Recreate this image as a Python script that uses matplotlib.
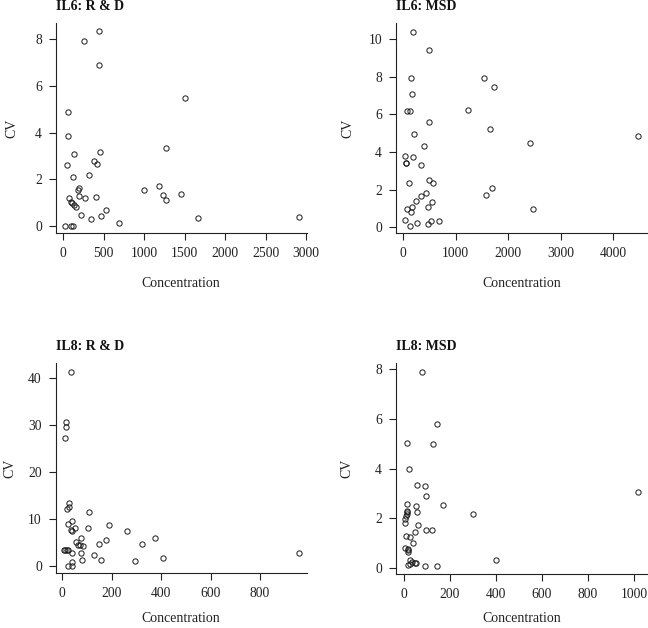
import matplotlib
matplotlib.use('Agg')
import matplotlib.pyplot as plt

plt.rcParams['font.family'] = ['Liberation Serif', 'DejaVu Serif']

# IL6: R & D
il6_rd_conc = [437, 255, 441, 1508, 58, 58, 1265, 449, 128, 375,
               412, 45, 313, 115, 1178, 194, 185, 997, 1454, 1228,
               194, 74, 264, 408, 1269, 91, 111, 132, 152, 527,
               214, 470, 338, 1660, 2913, 684, 25, 95, 119]
il6_rd_cv = [8.33, 7.91, 6.89, 5.47, 4.90, 3.87, 3.34, 3.16, 3.09, 2.77,
             2.67, 2.63, 2.17, 2.09, 1.71, 1.64, 1.56, 1.56, 1.36, 1.31,
             1.30, 1.21, 1.21, 1.24, 1.13, 1.01, 0.97, 0.89, 0.81, 0.69,
             0.47, 0.43, 0.30, 0.33, 0.37, 0.13, 0.0, 0.0, 0.0]

# IL6: MSD
il6_msd_conc = [190, 483, 152, 1530, 1733, 165, 76, 121, 1238, 495,
                1651, 4476, 210, 2413, 387, 25, 178, 44, 57, 337,
                495, 565, 114, 1683, 1581, 425, 330, 235, 546, 463,
                165, 63, 146, 2463, 32, 527, 673, 267, 476, 121]
il6_msd_cv = [10.39, 9.42, 7.93, 7.93, 7.45, 7.10, 6.18, 6.18, 6.23, 5.61,
              5.22, 4.87, 4.96, 4.46, 4.34, 3.81, 3.75, 3.43, 3.43, 3.33,
              2.51, 2.37, 2.34, 2.11, 1.70, 1.81, 1.68, 1.38, 1.35, 1.08,
              1.08, 0.96, 0.81, 0.99, 0.37, 0.35, 0.34, 0.21, 0.18, 0.07]

# IL8: R & D
il8_rd_conc = [35, 16, 16, 12, 27, 28, 20, 108, 40, 24,
               190, 50, 36, 40, 105, 260, 375, 74, 175, 147,
               323, 57, 63, 72, 85, 7, 12, 20, 24, 39,
               76, 130, 155, 81, 406, 293, 39, 24, 39, 958]
il8_rd_cv = [41.27, 30.58, 29.52, 27.26, 13.31, 12.60, 12.11, 11.54, 9.63, 8.85,
             8.78, 8.14, 7.57, 7.43, 8.07, 7.36, 5.95, 5.95, 5.45, 4.60,
             4.60, 5.03, 4.42, 4.40, 4.35, 3.30, 3.30, 3.40, 3.40, 2.83,
             2.83, 2.27, 1.27, 1.27, 1.77, 1.13, 0.85, 0.0, 0.0, 2.69]

# IL8: MSD
il8_msd_conc = [80, 143, 13, 129, 22, 56, 93, 97, 1017, 13,
                53, 56, 172, 302, 13, 13, 14, 10, 7, 4,
                64, 49, 97, 123, 9, 27, 41, 6, 20, 20,
                19, 29, 38, 49, 55, 20, 26, 93, 145, 399]
il8_msd_cv = [7.89, 5.81, 5.04, 4.98, 3.97, 3.34, 3.32, 2.92, 3.08, 2.58,
              2.49, 2.27, 2.56, 2.17, 2.31, 2.25, 2.17, 2.10, 1.97, 1.83,
              1.75, 1.46, 1.53, 1.53, 1.31, 1.24, 1.03, 0.82, 0.79, 0.72,
              0.66, 0.35, 0.27, 0.23, 0.20, 0.15, 0.17, 0.08, 0.09, 0.35]

W, H = 648, 628
fig = plt.figure(figsize=(W / 100, H / 100), dpi=100)


def panel(title, x, y, box, xlim, ylim, xticks, yticks, ylab_x, xlab_y):
    # box = (left, top, right, bottom) in pixels from top-left
    l, t, r, b = box
    ax = fig.add_axes([l / W, 1 - b / H, (r - l) / W, (b - t) / H])
    ax.plot(x, y, linestyle='none', marker='o', ms=3.8, mfc='none',
            mec='#1a1a1a', mew=0.7)
    ax.set_xlim(*xlim)
    ax.set_ylim(*ylim)
    ax.set_xticks(xticks)
    ax.set_yticks(yticks)
    ax.spines['top'].set_visible(False)
    ax.spines['right'].set_visible(False)
    for s in ('left', 'bottom'):
        ax.spines[s].set_linewidth(0.8)
        ax.spines[s].set_color('#222222')
    ax.tick_params(direction='out', length=5, width=0.8, color='#222222',
                   labelsize=9.8, labelcolor='#222222', pad=5)
    fig.text(l / W, 1 - (t - 13) / H, title, ha='left', va='baseline',
             fontsize=10, fontweight='bold', color='#111111')
    fig.text(ylab_x / W, 1 - (t + b) / 2 / H, 'CV', rotation=90,
             ha='center', va='center', fontsize=10, color='#222222')
    fig.text((l + r) / 2 / W, 1 - xlab_y / H, 'Concentration',
             ha='center', va='center', fontsize=10, color='#222222')
    return ax


panel('IL6: R & D', il6_rd_conc, il6_rd_cv, (55.7, 23.3, 306.7, 233.0),
      (-94, 3008), (-0.30, 8.68), range(0, 3001, 500), range(0, 9, 2), 12, 283)
panel('IL6: MSD', il6_msd_conc, il6_msd_cv, (396.0, 23.3, 648.0, 233.3),
      (-139, 4661), (-0.32, 10.83), range(0, 4001, 1000), range(0, 11, 2), 347.5, 283)
panel('IL8: R & D', il8_rd_conc, il8_rd_cv, (55.7, 363.3, 306.7, 573.3),
      (-26.7, 989), (-1.55, 43.05), range(0, 801, 200), range(0, 41, 10), 10, 619)
panel('IL8: MSD', il8_msd_conc, il8_msd_cv, (395.7, 363.3, 648.0, 574.3),
      (-34.7, 1061), (-0.24, 8.23), range(0, 1001, 200), range(0, 9, 2), 347, 619)

fig.savefig('out.png', dpi=100)
